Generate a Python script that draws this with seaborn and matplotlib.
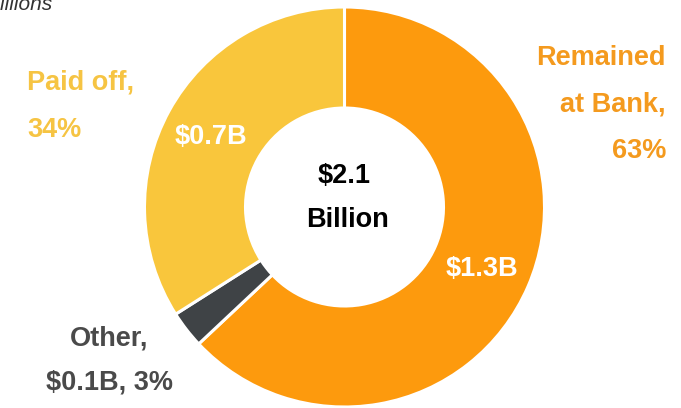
import matplotlib
matplotlib.use("Agg")
import matplotlib.pyplot as plt
import seaborn as sns

# Data: loan outcomes, in billions of dollars and share of total
categories = ["Remained at Bank", "Other", "Paid off"]
amounts_b = [1.3, 0.1, 0.7]
shares_pct = [63, 3, 34]
total_b = 2.1

sns.set_theme(style="white")
plt.rcParams["font.family"] = ["Liberation Sans", "DejaVu Sans"]

colors = ["#FD9A0D", "#3F4346", "#F9C63C"]
text_colors = ["#F49A1E", "#4A4A4A", "#F6C443"]

W, H = 681, 408
fig = plt.figure(figsize=(W / 100, H / 100), dpi=100)
ax = fig.add_axes([0, 0, 1, 1])

cx, cy, R = 344.5, H - 207, 200
ax.pie(shares_pct, colors=colors, startangle=90, counterclock=False,
       center=(cx, cy), radius=R,
       wedgeprops=dict(width=R * 0.505, edgecolor="white", linewidth=2.2))
ax.set_xlim(0, W)
ax.set_ylim(0, H)
ax.set_aspect("equal")
ax.axis("off")

def px(x, y):
    return x, H - y

bold = dict(fontweight="bold", fontsize=19.5)

# Centre total
ax.text(*px(344, 176), f"${total_b}", ha="center", va="center", color="black", **bold)
ax.text(*px(347, 220), "Billion", ha="center", va="center", color="black", **bold)

# Amounts inside the ring
ax.text(*px(482, 269), f"${amounts_b[0]}B", ha="center", va="center", color="white", **bold)
ax.text(*px(211, 137), f"${amounts_b[2]}B", ha="center", va="center", color="white", **bold)

# Outside labels
ax.text(*px(666, 58), "Remained", ha="right", va="center", color=text_colors[0], **bold)
ax.text(*px(666, 105), "at Bank,", ha="right", va="center", color=text_colors[0], **bold)
ax.text(*px(666, 151), f"{shares_pct[0]}%", ha="right", va="center", color=text_colors[0], **bold)

ax.text(*px(27, 83), "Paid off,", ha="left", va="center", color=text_colors[2], **bold)
ax.text(*px(27, 130), f"{shares_pct[2]}%", ha="left", va="center", color=text_colors[2], **bold)

ax.text(*px(109, 338), "Other,", ha="center", va="center", color=text_colors[1], **bold)
ax.text(*px(109, 382), f"${amounts_b[1]}B, {shares_pct[1]}%", ha="center", va="center",
        color=text_colors[1], **bold)

# Units note at the top-left corner
ax.text(*px(52, 4), "$ in billions", ha="right", va="center", color="#333333",
        fontsize=15, fontstyle="italic")

fig.savefig("out.png", dpi=100)
